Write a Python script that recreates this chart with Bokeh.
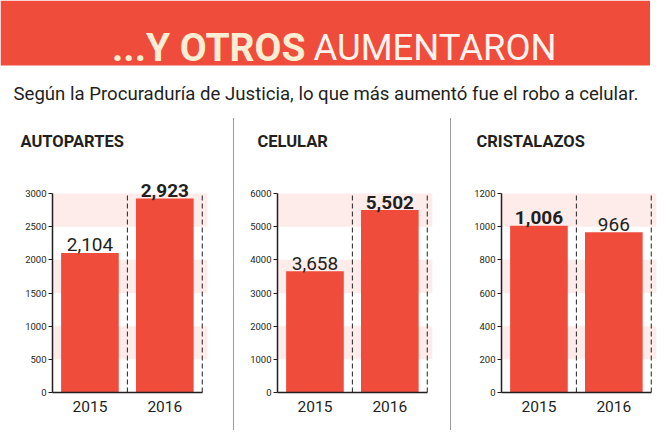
from bokeh.plotting import figure
from bokeh.models import Range1d, FixedTicker, Div, ColumnDataSource
from bokeh.layouts import column, row
from bokeh.core.properties import value
from bokeh.embed import file_html
from bokeh.resources import INLINE

# ---- data ----
TITLE_BOLD = "...Y OTROS"
TITLE_LIGHT = "AUMENTARON"
SUBTITLE = "Según la Procuraduría de Justicia, lo que más aumentó fue el robo a celular."
panels = ["AUTOPARTES", "CELULAR", "CRISTALAZOS"]
years = ["2015", "2016"]
values_2015 = [2104, 3658, 1006]
values_2016 = [2923, 5502, 966]
axis_max = [3000, 6000, 1200]
axis_step = [500, 1000, 200]

# ---- style ----
RED = "#EF4C3C"
PINK = "#FDECE9"
INK = "#231F20"
CREAM = "#F9EDD3"
FONT = "Roboto"

# ---- header ----
W, HH = 650, 106
head = figure(width=W, height=HH, x_range=Range1d(0, W), y_range=Range1d(HH, 0),
              output_backend="svg", toolbar_location=None, min_border=0)
head.axis.visible = False
head.xgrid.visible = False
head.ygrid.visible = False
head.outline_line_color = None
head.quad(left=[0], right=[W], top=[0], bottom=[65], color=RED, line_color=None)
head.text(x=[305], y=[47], text=[TITLE_BOLD], text_align="right", text_baseline="alphabetic",
          text_font=value(FONT), text_font_style="bold", text_font_size="39px", text_color=CREAM)
head.text(x=[313], y=[47], text=[TITLE_LIGHT], text_align="left", text_baseline="alphabetic",
          text_font=value(FONT), text_font_style="normal", text_font_size="36.5px", text_color="#FFF3EE")
head.text(x=[13], y=[93], text=[SUBTITLE], text_align="left", text_baseline="alphabetic",
          text_font=value(FONT), text_font_size="18.6px", text_color=INK)

# ---- panels ----
widths = [228, 206, 214]
border_left = [52, 38, 45]
title_offset = [-32, -20, -25]
PH = 320
FRAME_W = 155
X_END = 2.07
TOP_B, BOT_B = 64, 34
FRAME_H = PH - TOP_B - BOT_B
TICK_SPAN = 199


def make_panel(i):
    top = axis_max[i]
    step = axis_step[i]
    ticks = list(range(0, top + 1, step))
    p = figure(width=widths[i], height=PH, x_range=Range1d(0, X_END),
               y_range=Range1d(0, top * FRAME_H / TICK_SPAN),
               output_backend="svg", toolbar_location=None,
               min_border_left=border_left[i], min_border_right=widths[i] - border_left[i] - FRAME_W,
               min_border_top=TOP_B, min_border_bottom=BOT_B, title=panels[i])
    p.xgrid.visible = False
    p.ygrid.visible = False
    p.outline_line_color = None

    # alternating light bands between ticks
    bl = [ticks[k] for k in range(len(ticks) - 1) if k % 2 == 1]
    bt = [ticks[k + 1] for k in range(len(ticks) - 1) if k % 2 == 1]
    p.quad(left=0, right=X_END, bottom=bl, top=bt, color=PINK, line_color=None)

    vals = [values_2015[i], values_2016[i]]
    xs = [0.5, 1.5]
    p.vbar(x=xs, top=vals, width=0.77, bottom=0, color=RED, line_color=None)
    p.segment(x0=[1, 2], y0=[0, 0], x1=[1, 2], y1=[top, top], line_color=INK,
              line_width=1, line_dash="5 3")

    src = ColumnDataSource(dict(
        x=xs, y=vals, t=[f"{v:,}" for v in vals],
        st=["bold" if v == max(vals) else "normal" for v in vals]))
    p.text(x="x", y="y", text="t", source=src, y_offset=-8, text_align="center",
           text_baseline="alphabetic", text_font=value(FONT), text_font_style="st",
           text_font_size="19px", text_color=INK)

    ya = p.yaxis[0]
    ya.ticker = FixedTicker(ticks=ticks)
    ya.bounds = (0, top)
    ya.axis_line_color = INK
    ya.axis_line_width = 1.5
    ya.major_tick_out = 4
    ya.major_tick_in = 0
    ya.minor_tick_out = 0
    ya.minor_tick_in = 0
    ya.major_tick_line_color = INK
    ya.major_label_text_font = FONT
    ya.major_label_text_font_size = "9.5px"
    ya.major_label_text_color = INK
    ya.major_label_standoff = 2

    xa = p.xaxis[0]
    xa.ticker = FixedTicker(ticks=xs)
    xa.major_label_overrides = {0.5: years[0], 1.5: years[1]}
    xa.bounds = (0, 2)
    xa.axis_line_color = INK
    xa.axis_line_width = 1.5
    xa.major_tick_out = 0
    xa.major_tick_in = 0
    xa.minor_tick_out = 0
    xa.minor_tick_in = 0
    xa.major_label_text_font = FONT
    xa.major_label_text_font_size = "15.5px"
    xa.major_label_text_color = INK
    xa.major_label_standoff = 8

    p.title.text_font = FONT
    p.title.text_font_style = "bold"
    p.title.text_font_size = "16.5px"
    p.title.text_color = INK
    p.title.align = "left"
    p.title.offset = title_offset[i]
    p.title.standoff = 39
    return p


def divider():
    return Div(text='<div style="width:1px;height:312px;margin-top:7px;background:#9c9c9c"></div>',
               width=1, height=PH)


panel_figs = [make_panel(i) for i in range(3)]
layout = column(head, row(panel_figs[0], divider(), panel_figs[1], divider(), panel_figs[2]))

open("out.html", "w").write(file_html(layout, INLINE))
